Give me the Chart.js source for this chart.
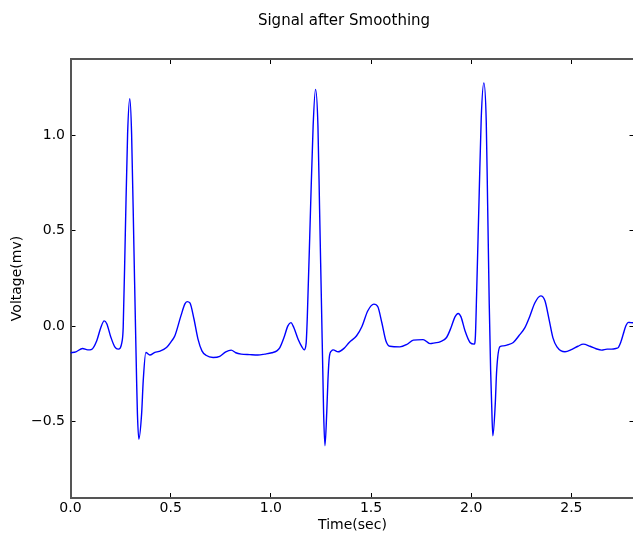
<!DOCTYPE html>
<html>
<head>
<meta charset="utf-8">
<script src="https://cdn.jsdelivr.net/npm/chart.js@4"></script>
<style>
  html, body { margin: 0; padding: 0; background: #fff; overflow: hidden; }
  canvas { display: block; }
</style>
</head>
<body>
<canvas id="chart" width="688" height="534"></canvas>
<script>
// time (s) and smoothed voltage (mV)
const timeSec = [
  0.000, 0.027, 0.060, 0.086, 0.106, 0.131, 0.151, 0.168, 0.181, 0.201,
  0.221, 0.238, 0.258, 0.263, 0.2735, 0.285, 0.296, 0.305, 0.3165, 0.3245,
  0.330, 0.334, 0.341, 0.355, 0.363, 0.376, 0.396, 0.421, 0.442, 0.479,
  0.506, 0.521, 0.551, 0.571, 0.582, 0.596, 0.616, 0.636, 0.656, 0.676,
  0.712, 0.745, 0.775, 0.802, 0.825, 0.852, 0.895, 0.935, 0.970, 1.005,
  1.030, 1.045, 1.065, 1.085, 1.100, 1.115, 1.136, 1.155, 1.166, 1.176,
  1.182, 1.198, 1.211, 1.223, 1.235, 1.2432, 1.2531, 1.2597, 1.2635, 1.270,
  1.279, 1.285, 1.292, 1.303, 1.311, 1.336, 1.365, 1.391, 1.428, 1.454, 1.484,
  1.514, 1.534, 1.554, 1.574, 1.594, 1.644, 1.679, 1.711, 1.760, 1.794,
  1.819, 1.844, 1.877, 1.899, 1.919, 1.935, 1.949, 1.969, 1.994, 2.015,
  2.021, 2.027, 2.040, 2.050, 2.063, 2.075, 2.082, 2.090, 2.097, 2.102, 2.108,
  2.120, 2.127, 2.143, 2.160, 2.183, 2.210, 2.238, 2.268, 2.293, 2.318,
  2.347, 2.368, 2.388, 2.408, 2.428, 2.468, 2.503, 2.533, 2.559, 2.593,
  2.623, 2.651, 2.678, 2.701, 2.724, 2.734, 2.747, 2.759, 2.772, 2.785,
  2.796, 2.812
];
const voltage = [
  -0.139, -0.134, -0.117, -0.124, -0.121, -0.076, -0.008, 0.028, 0.013, -0.056,
  -0.108, -0.120, -0.076, -0.007, 0.480, 1.007, 1.192, 1.007, 0.412, -0.007,
  -0.286, -0.458, -0.591, -0.458, -0.286, -0.138, -0.151, -0.137, -0.132, -0.112,
  -0.076, -0.050, 0.054, 0.117, 0.129, 0.122, 0.039, -0.066, -0.129, -0.152,
  -0.164, -0.158, -0.134, -0.125, -0.139, -0.146, -0.149, -0.151, -0.146, -0.139,
  -0.129, -0.112, -0.061, 0.002, 0.019, -0.008, -0.068, -0.108, -0.124, -0.090,
  0.050, 0.613, 1.049, 1.241, 1.049, 0.613, 0.090, -0.260, -0.460, -0.626,
  -0.450, -0.280, -0.160, -0.129, -0.124, -0.134, -0.116, -0.085, -0.050, -0.003, 0.081,
  0.116, 0.102, 0.018, -0.076, -0.105, -0.108, -0.095, -0.073, -0.070, -0.091,
  -0.087, -0.082, -0.059, -0.008, 0.049, 0.067, 0.049, -0.024, -0.085, -0.094,
  -0.050, 0.170, 0.700, 1.090, 1.275, 1.075, 0.639, 0.116, -0.233, -0.408, -0.574,
  -0.408, -0.233, -0.108, -0.103, -0.097, -0.085, -0.050, -0.007, 0.054, 0.123,
  0.159, 0.133, 0.039, -0.061, -0.108, -0.134, -0.121, -0.105, -0.094, -0.105,
  -0.118, -0.125, -0.120, -0.120, -0.116, -0.112, -0.082, -0.041, 0.002, 0.020,
  0.019, 0.018
];

const xTicks = [0.0, 0.5, 1.0, 1.5, 2.0, 2.5];
const yTicks = [-0.5, 0.0, 0.5, 1.0];

const FONT = 'DejaVu Sans';

function fmt(v) {
  const s = Math.abs(v).toFixed(1);
  return v < 0 ? '\u2212' + s : s;
}

const tickMarks = {
  display: true,
  drawOnChartArea: false,
  drawTicks: true,
  tickLength: -5,
  color: '#000',
  lineWidth: 1
};
const spine = { display: true, color: '#555', width: 2 };

function xScale(position, showLabels) {
  return {
    type: 'linear',
    position: position,
    min: 0,
    max: 2.815,
    afterBuildTicks: s => { s.ticks = xTicks.map(v => ({ value: v })); },
    grid: tickMarks,
    border: spine,
    ticks: {
      display: showLabels,
      maxRotation: 0,
      autoSkip: false,
      padding: 7,
      color: '#000',
      font: { family: FONT, size: 14 },
      callback: v => fmt(v)
    }
  };
}

function yScale(position, showLabels) {
  return {
    type: 'linear',
    position: position,
    min: -0.9,
    max: 1.4,
    afterBuildTicks: s => { s.ticks = yTicks.map(v => ({ value: v })); },
    grid: tickMarks,
    border: spine,
    ticks: {
      display: showLabels,
      autoSkip: false,
      padding: 10.5,
      color: '#000',
      font: { family: FONT, size: 14 },
      callback: v => fmt(v)
    }
  };
}

const scales = {
  x: xScale('bottom', true),
  y: yScale('left', true),
  x2: xScale('top', false),
  y2: yScale('right', false)
};
scales.x.title = {
  display: true, text: 'Time(sec)', color: '#000',
  font: { family: FONT, size: 14 }, padding: { top: 0, bottom: 0.5 }
};
scales.x.afterFit = s => { s.height = 36; };
scales.y.title = {
  display: true, text: 'Voltage(mv)', color: '#000',
  font: { family: FONT, size: 14 }, padding: { top: 8.6, bottom: 0 }
};
scales.y.afterFit = s => { s.width = 70.5; };
scales.x2.afterFit = s => { s.height = 0; };
scales.y2.afterFit = s => { s.width = 53.5; };

new Chart(document.getElementById('chart'), {
  type: 'line',
  data: {
    datasets: [{
      data: timeSec.map((t, i) => ({ x: t, y: voltage[i] })),
      borderColor: '#0000ff',
      borderWidth: 1.4,
      pointRadius: 0,
      fill: false,
      cubicInterpolationMode: 'monotone'
    }]
  },
  options: {
    responsive: false,
    animation: false,
    devicePixelRatio: 1,
    layout: { padding: 0 },
    plugins: {
      legend: { display: false },
      tooltip: { enabled: false },
      title: {
        display: true,
        text: 'Signal after Smoothing',
        color: '#000',
        font: { family: FONT, size: 15, weight: 'normal' },
        padding: { top: 12, bottom: 29 }
      }
    },
    scales: scales
  }
});
</script>
</body>
</html>
